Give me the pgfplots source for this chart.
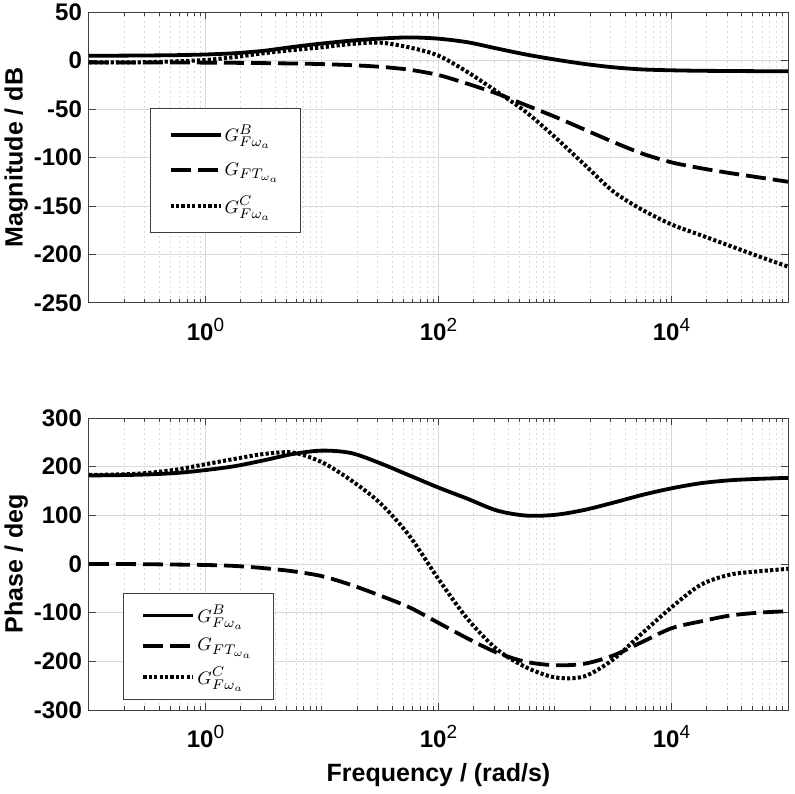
\documentclass[border=0pt]{standalone}
\usepackage{pgfplots}
\pgfplotsset{compat=1.18}
\usepackage{pgfplotstable}
\usepackage{fontspec}
\setmainfont{Liberation Sans}
\definecolor{axgray}{HTML}{404040}
\definecolor{gridgray}{HTML}{DADADA}
\pgfplotstableread{
w magB magT magC phB phT phC
0.1 5 -2 -2 182 0 183
0.17783 5 -2 -2 182.5 0 184
0.31623 5.2 -2 -1.7 184 -0.5 187
0.56234 5.5 -2 -0.8 187 -1.2 194
1 6.2 -2.2 0.5 193 -2 205
1.7783 7.5 -2.4 3.5 201 -4 216
3.1623 10 -2.7 7.5 213 -8.5 226
5.6234 14 -3.1 10.8 226 -15 229
10 17.5 -3.7 13.6 233 -25 209
17.783 20.5 -4.8 17 228 -43 172
31.623 22.6 -6.5 18.4 207 -65 125
56.234 23.8 -9.5 13.5 182 -89 58
100 22.5 -15 5 157 -121 -31
177.83 18.8 -24 -12 134 -153 -113
316.23 12.4 -34 -32 110 -182 -175
562.34 6.2 -46 -53 99.5 -201 -212
1000 1 -58 -79 101 -208 -233
1778.3 -3.5 -71 -107 111 -205 -231
3162.3 -7 -84 -135 126 -188 -196
5623.4 -9.2 -96 -154 142 -160 -142
10000 -10.1 -105 -169 155.5 -132 -89
17783 -10.6 -111 -180 166 -118 -43
31623 -10.8 -116 -191 172 -106 -22
56234 -11 -120.5 -202 175 -100 -15
100000 -11 -125 -212.5 177 -97 -10
}\data
\newcommand{\tl}[1]{10\raisebox{0.75ex}{\fontsize{9.5}{9.5}\selectfont\mdseries #1}}
\pgfplotsset{
  every axis/.append style={
    axis line style={axgray, line width=0.5pt},
    tick style={axgray, line width=0.5pt},
    major tick length=3.5pt, minor tick length=2pt,
    major grid style={gridgray, line width=0.5pt},
    minor grid style={gridgray, line width=0.5pt, dash pattern=on 1pt off 1.5pt},
    ticklabel style={font=\bfseries\fontsize{12}{14}\selectfont},
    xticklabel style={yshift=-4pt},
    label style={font=\bfseries\fontsize{12.5}{15}\selectfont},
    legend cell align=left,
    legend style={draw=axgray, line width=0.5pt, fill=white,
      font=\fontsize{9.5}{11}\selectfont,
      nodes={inner xsep=1pt},
      inner xsep=9pt, inner ysep=5pt, anchor=north west},
    legend image code/.code={\draw[#1] (0pt,0pt) -- (25pt,0pt);},
  },
  every axis plot/.append style={black, line width=1.9pt, smooth},
  lB/.style={solid},
  lT/.style={dash pattern=on 10pt off 3.5pt},
  lC/.style={line width=2pt, dash pattern=on 1.6pt off 1.1pt},
}
\begin{document}
\begin{tikzpicture}
\useasboundingbox (0,0) rectangle (397pt,397pt);
\begin{axis}[xmode=log, xmin=0.1, xmax=100000,
  scale only axis, width=349.5pt, height=145.5pt,
  anchor=south west, at={(44.5pt,245.5pt)},
  xtick={1,100,10000},
  xticklabels={\tl{0},\tl{2},\tl{4}},
  minor xtick={0.2,0.3,0.4,0.5,0.6,0.7,0.8,0.9,2,3,4,5,6,7,8,9,10,20,30,40,50,60,70,80,90,200,300,400,500,600,700,800,900,1000,2000,3000,4000,5000,6000,7000,8000,9000,20000,30000,40000,50000,60000,70000,80000,90000},
  grid=both,
  ymin=-250, ymax=50,
  ytick={-250,-200,-150,-100,-50,0,50},
  yticklabels={-250,-200,-150,-100,-50,0,50},
  ylabel={Magnitude / dB},
  ylabel style={at={(axis description cs:-0.104,0.5)}, anchor=center},
  legend style={at={(0.0873,0.670)}, row sep=5pt, inner ysep=6pt},
]
\addplot[lB] table[x=w, y=magB] {\data};
\addlegendentry{$G^{B}_{F\omega_a}$}
\addplot[lT] table[x=w, y=magT] {\data};
\addlegendentry{$G_{FT_{\omega_a}}$}
\addplot[lC] table[x=w, y=magC] {\data};
\addlegendentry{$G^{C}_{F\omega_a}$}
\end{axis}
\begin{axis}[xmode=log, xmin=0.1, xmax=100000,
  scale only axis, width=349.5pt, height=146pt,
  anchor=south west, at={(44.5pt,42pt)},
  xtick={1,100,10000},
  xticklabels={\tl{0},\tl{2},\tl{4}},
  minor xtick={0.2,0.3,0.4,0.5,0.6,0.7,0.8,0.9,2,3,4,5,6,7,8,9,10,20,30,40,50,60,70,80,90,200,300,400,500,600,700,800,900,1000,2000,3000,4000,5000,6000,7000,8000,9000,20000,30000,40000,50000,60000,70000,80000,90000},
  grid=both,
  ymin=-300, ymax=300,
  ytick={-300,-200,-100,0,100,200,300},
  yticklabels={-300,-200,-100,0,100,200,300},
  ylabel={Phase / deg},
  ylabel style={at={(axis description cs:-0.104,0.5)}, anchor=center},
  xlabel={Frequency / (rad/s)},
  xlabel style={at={(axis description cs:0.5,-0.222)}, anchor=center},
  legend style={at={(0.0486,0.401)}, row sep=2.5pt, inner ysep=4pt},
]
\addplot[lB] table[x=w, y=phB] {\data};
\addlegendentry{$G^{B}_{F\omega_a}$}
\addplot[lT] table[x=w, y=phT] {\data};
\addlegendentry{$G_{FT_{\omega_a}}$}
\addplot[lC] table[x=w, y=phC] {\data};
\addlegendentry{$G^{C}_{F\omega_a}$}
\end{axis}
\end{tikzpicture}
\end{document}
